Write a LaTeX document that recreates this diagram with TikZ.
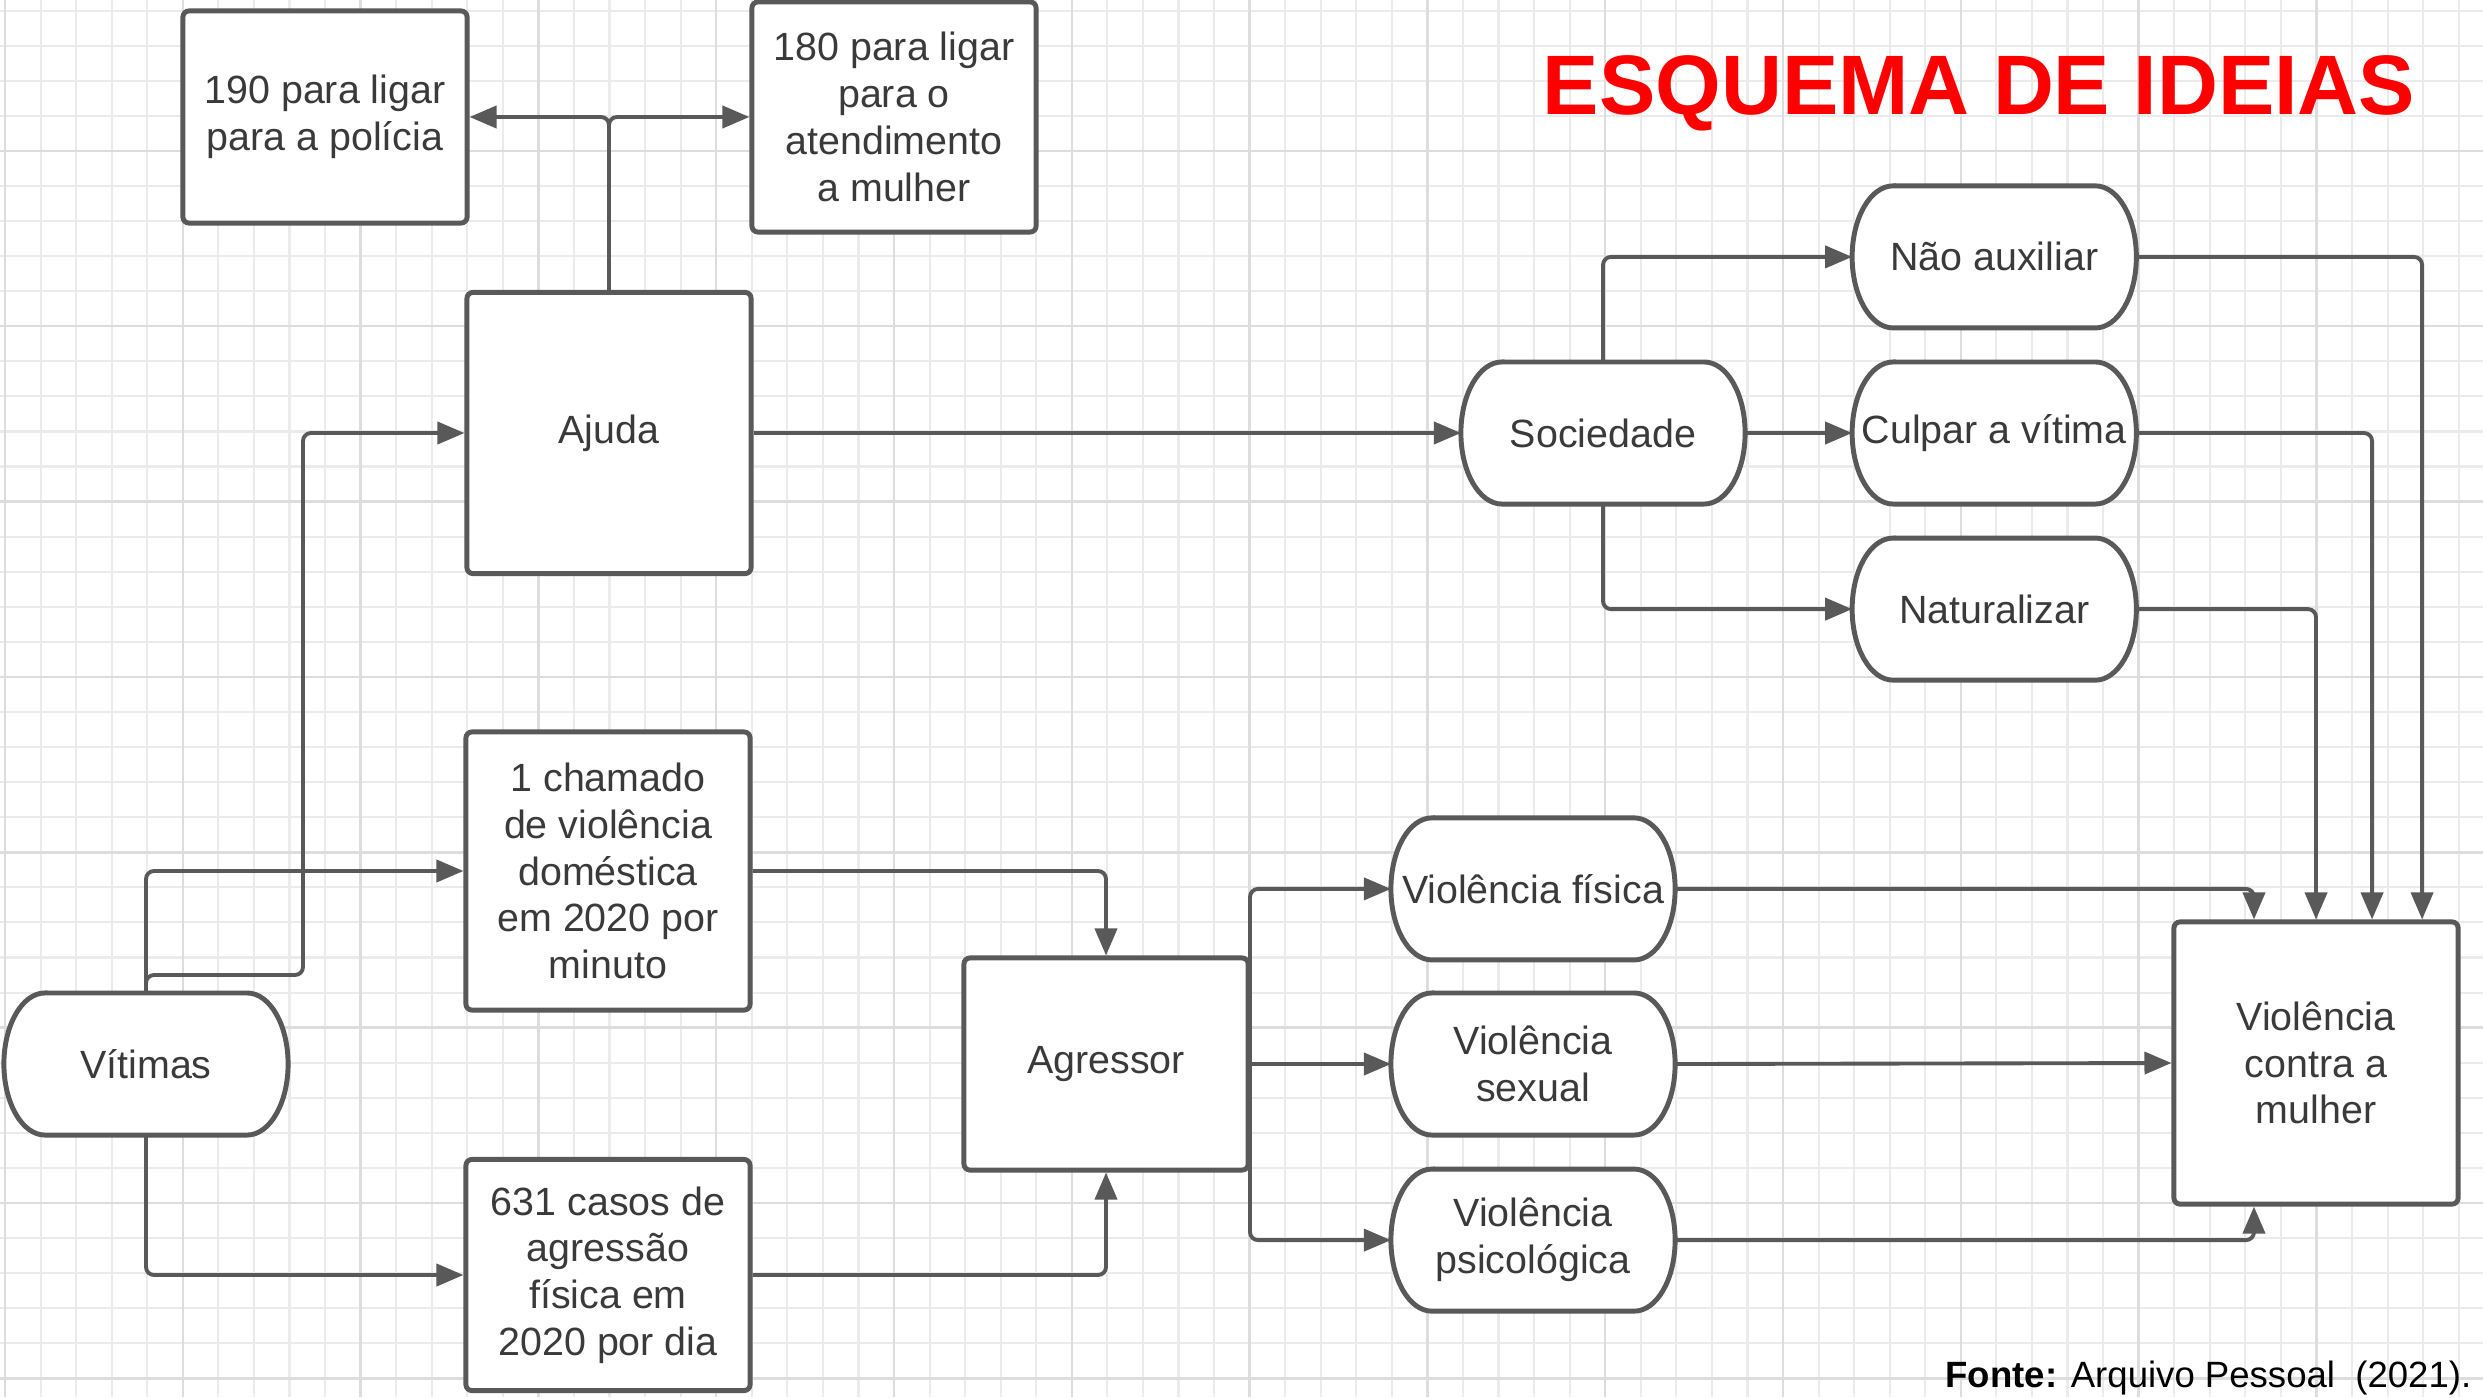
\documentclass[tikz,border=0pt]{standalone}
\usepackage{fontspec}
\setmainfont{Liberation Sans}
\usetikzlibrary{positioning,calc,arrows.meta}
\definecolor{linegray}{HTML}{595959}
\definecolor{textgray}{HTML}{3A3A3A}
\definecolor{gridminor}{HTML}{EBEBEB}
\definecolor{gridmajor}{HTML}{DDDDDD}
\definecolor{titlered}{HTML}{FF0000}
\pgfdeclarelayer{grid}
\pgfdeclarelayer{background}
\pgfsetlayers{grid,background,main}
\newcommand{\boxfont}{\fontsize{11.2}{13.3}\selectfont}

\begin{document}
\begin{tikzpicture}[
    x=0.01cm, y=-0.01cm,
    box/.style={rectangle, draw=linegray, line width=1.4pt, rounded corners=0.06cm, fill=white, text=textgray, align=center, minimum width=2.84cm, inner sep=1pt, font=\boxfont},
    pill/.style={rectangle, text=textgray, align=center, minimum width=2.84cm, minimum height=1.42cm, inner sep=1pt, outer sep=0pt, font=\boxfont},
    pillline/.style={draw=linegray, line width=1.4pt, fill=white},
    arrow/.style={draw=linegray, line width=1.1pt, rounded corners=0.08cm, -{Triangle[length=0.27cm, width=0.22cm]}},
    gridline/.style={draw=gridminor, line width=0.6pt},
    gridbold/.style={draw=gridmajor, line width=0.7pt}
  ]
  \useasboundingbox (0,0) rectangle (2483,1397);

  % squared paper
  \begin{pgfonlayer}{grid}
    \fill[white] (0,0) rectangle (2483,1397);
    \foreach \i in {0,...,69} \draw[gridline] ({5+35.56*\i},0) -- ({5+35.56*\i},1397);
    \foreach \j in {0,...,39} \draw[gridline] (0,{10.6+35.07*\j}) -- (2483,{10.6+35.07*\j});
    \foreach \i in {0,5,...,65} \draw[gridbold] ({5+35.56*\i},0) -- ({5+35.56*\i},1397);
    \foreach \j in {4,9,...,39} \draw[gridbold] (0,{10.6+35.07*\j}) -- (2483,{10.6+35.07*\j});
  \end{pgfonlayer}

  % title and source
  \node (titulo) [anchor=base, text=titlered, font=\fontsize{24}{28}\selectfont\bfseries] at (1979,115) {ESQUEMA DE IDEIAS};
  \node (fonte) [anchor=base east, inner sep=0pt, font=\fontsize{10.4}{12}\selectfont] at (2472,1387) {\textbf{Fonte:} Arquivo Pessoal\ \ (2021).};

  % boxes
  \node (p190) [box, minimum height=2.12cm] at (325,117) {190 para ligar\\para a polícia};
  \node (p180) [box, minimum height=2.30cm] at (894,117) {180 para ligar\\para o\\atendimento\\a mulher};
  \node (ajuda) [box, minimum height=2.81cm] at (609,433) {Ajuda};
  \node (chamado) [box, minimum height=2.78cm] at (608,871) {1 chamado\\de violência\\doméstica\\em 2020 por\\minuto};
  \node (casos) [box, minimum height=2.31cm] at (608,1275) {631 casos de\\agressão\\física em\\2020 por dia};
  \node (agressor) [box, minimum height=2.12cm] at (1106,1064) {Agressor};
  \node (vcm) [box, minimum height=2.82cm] at (2316,1063) {Violência\\contra a\\mulher};

  % rounded ends
  \node (vitimas) [pill] at (146,1064) {Vítimas};
  \node (sociedade) [pill] at (1603,433) {Sociedade};
  \node (culpar) [pill, right=1.07cm of sociedade] {Culpar a vítima};
  \node (naoaux) [pill, above=0.34cm of culpar] {Não auxiliar};
  \node (natur) [pill, below=0.34cm of culpar] {Naturalizar};
  \node (vsexual) [pill] at (1533,1064) {Violência\\sexual};
  \node (vfisica) [pill, above=0.33cm of vsexual] {Violência física};
  \node (vpsico) [pill, below=0.34cm of vsexual] {Violência\\psicológica};

  \begin{pgfonlayer}{background}
    \foreach \n in {vitimas,sociedade,naoaux,culpar,natur,vfisica,vsexual,vpsico}
      \draw[pillline] ($(\n.north west)+(41,0)$) -- ($(\n.north east)+(-41,0)$)
        arc[start angle=90, end angle=-90, x radius=0.41cm, y radius=0.71cm]
        -- ($(\n.south west)+(41,0)$)
        arc[start angle=270, end angle=90, x radius=0.41cm, y radius=0.71cm] -- cycle;
  \end{pgfonlayer}

  % connections
  \coordinate (vsplit) at (303,975);
  \coordinate (asplit) at (1250,1064);
  \draw[arrow] (ajuda.north) |- (p190.east);
  \draw[arrow] (ajuda.north) |- (p180.west);
  \draw[arrow] (vitimas.north) |- (vsplit) |- (ajuda.west);
  \draw[arrow] (vitimas.north) |- (chamado.west);
  \draw[arrow] (vitimas.south) |- (casos.west);
  \draw[arrow] (chamado.east) -| (agressor.north);
  \draw[arrow] (casos.east) -| (agressor.south);
  \draw[arrow] (agressor.east) -- (vsexual.west);
  \draw[arrow] (asplit) |- (vfisica.west);
  \draw[arrow] (asplit) |- (vpsico.west);
  \draw[arrow] (ajuda.east) -- (sociedade.west);
  \draw[arrow] (sociedade.north) |- (naoaux.west);
  \draw[arrow] (sociedade.east) -- (culpar.west);
  \draw[arrow] (sociedade.south) |- (natur.west);
  \draw[arrow] (naoaux.east) -| ([xshift=1.06cm]vcm.north);
  \draw[arrow] (culpar.east) -| ([xshift=0.56cm]vcm.north);
  \draw[arrow] (natur.east) -| (vcm.north);
  \draw[arrow] (vfisica.east) -| ([xshift=-0.62cm]vcm.north);
  \draw[arrow] (vsexual.east) -- (vcm.west);
  \draw[arrow] (vpsico.east) -| ([xshift=-0.62cm]vcm.south);
\end{tikzpicture}
\end{document}
